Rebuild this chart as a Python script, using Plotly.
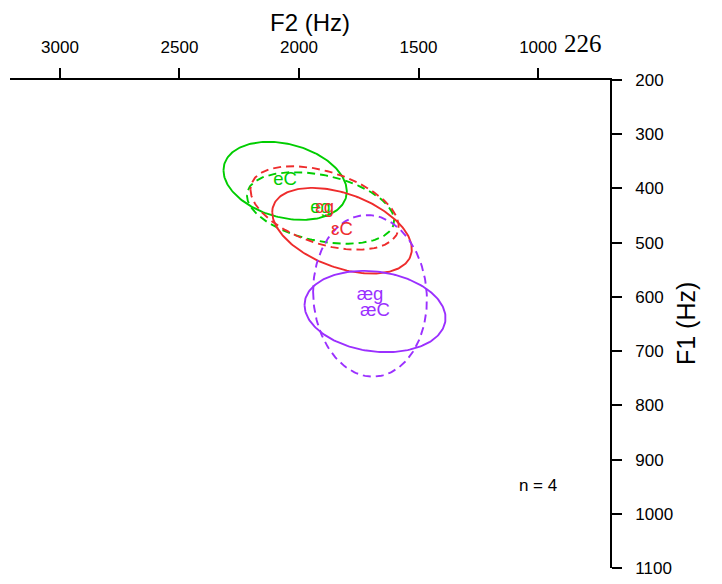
import numpy as np
import plotly.graph_objects as go

# Ellipse statistics (Hz): centre F2, centre F1, radius F2, radius F1, F2-F1 correlation
labels   = ["eC", "eg", "ɛC", "ɛg", "æC", "æg"]
vowel    = ["e", "e", "ɛ", "ɛ", "æ", "æ"]
context  = ["C", "g", "C", "g", "C", "g"]
f2_mean  = [2058, 1910, 1820, 1893, 1682, 1703]
f1_mean  = [386, 436, 478, 436, 627, 598]
f2_rad   = [258, 308, 292, 310, 295, 238]
f1_rad   = [72, 66, 79, 77, 75, 149]
corr     = [-0.27, -0.35, -0.43, -0.44, -0.16, -0.05]

x_ticks = [3000, 2500, 2000, 1500, 1000]
y_ticks = [200, 300, 400, 500, 600, 700, 800, 900, 1000, 1100]

colors = {"e": "#00CD00", "ɛ": "#EE2C2C", "æ": "#9B30FF"}
dashes = {"C": "solid", "g": "8px,5px"}

FONT = "Liberation Sans, Arial, sans-serif"

fig = go.Figure()
t = np.linspace(0, 2 * np.pi, 200)
for i, lab in enumerate(labels):
    s2, s1, r = f2_rad[i], f1_rad[i], corr[i]
    cov = np.array([[s2 * s2, r * s2 * s1], [r * s2 * s1, s1 * s1]])
    L = np.linalg.cholesky(cov)
    pts = L @ np.vstack([np.cos(t), np.sin(t)])
    col = colors[vowel[i]]
    fig.add_trace(go.Scatter(
        x=f2_mean[i] + pts[0], y=f1_mean[i] + pts[1], mode="lines",
        line=dict(color=col, width=1.9, dash=dashes[context[i]]),
        hoverinfo="skip", showlegend=False))

for i, lab in enumerate(labels):
    fig.add_trace(go.Scatter(
        x=[f2_mean[i]], y=[f1_mean[i]], mode="text", text=[lab],
        textfont=dict(family=FONT, size=18.5, color=colors[vowel[i]]),
        textposition="middle center", showlegend=False, hoverinfo="skip"))

fig.add_trace(go.Scatter(x=[1000], y=[950], mode="text", text=["n = 4"],
                         textfont=dict(family=FONT, size=17, color="black"),
                         showlegend=False, hoverinfo="skip"))

fig.update_layout(
    width=714, height=576,
    margin=dict(l=2, r=112, t=72, b=16),
    paper_bgcolor="white", plot_bgcolor="white",
    xaxis=dict(range=[3209, 699], side="top", showgrid=False, zeroline=False,
               showline=True, linecolor="black", linewidth=1.8,
               ticks="outside", ticklen=10, tickwidth=1.5, tickcolor="black",
               tickvals=x_ticks, ticktext=[str(v) for v in x_ticks],
               tickfont=dict(family=FONT, size=17, color="black"),
               ticklabelstandoff=8),
    yaxis=dict(range=[1100, 200], side="right", showgrid=False, zeroline=False,
               showline=True, linecolor="black", linewidth=1.8,
               ticks="outside", ticklen=10, tickwidth=1.5, tickcolor="black",
               tickvals=y_ticks, ticktext=[str(v) for v in y_ticks],
               tickfont=dict(family=FONT, size=17, color="black"),
               ticklabelstandoff=10),
    annotations=[
        dict(text="F2 (Hz)", xref="paper", yref="paper", x=0.5, y=1,
             xanchor="center", yanchor="bottom", yshift=42, showarrow=False,
             font=dict(family=FONT, size=24, color="black")),
        dict(text="F1 (Hz)", xref="paper", yref="paper", x=1, y=0.5,
             xanchor="center", yanchor="middle", xshift=76, textangle=-90,
             showarrow=False, font=dict(family=FONT, size=25, color="black")),
        dict(text="226", xref="paper", yref="paper", x=1, y=1,
             xanchor="right", yanchor="middle", xshift=-6, yshift=37,
             showarrow=False,
             font=dict(family="Liberation Serif, DejaVu Serif, serif", size=25, color="black")),
    ],
)

fig.write_html("out.html")
